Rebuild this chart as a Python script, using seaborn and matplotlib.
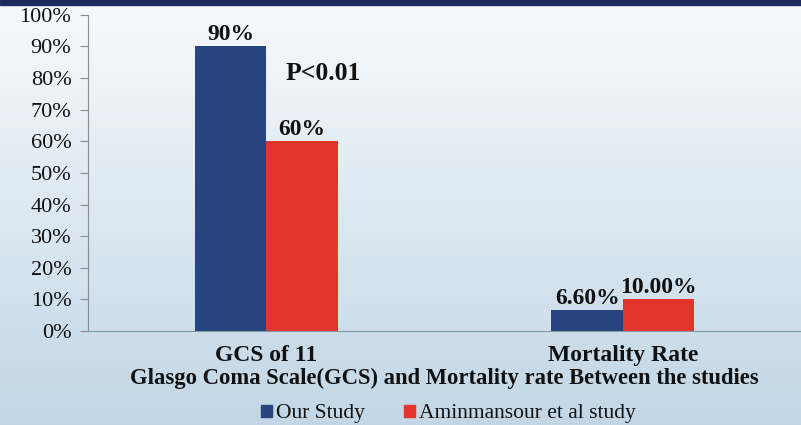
import numpy as np
import pandas as pd
import seaborn as sns
import matplotlib.pyplot as plt
from matplotlib.patches import Rectangle

# data
categories = ['GCS of 11', 'Mortality Rate']
studies = ['Our Study', 'Aminmansour et al study']
our_study = [90.0, 6.6]
aminmansour = [60.0, 10.0]
bar_labels = [['90%', '6.60%'], ['60%', '10.00%']]
yticks = [0, 10, 20, 30, 40, 50, 60, 70, 80, 90, 100]

df = pd.DataFrame({
    'category': categories * 2,
    'study': [studies[0]] * 2 + [studies[1]] * 2,
    'value': our_study + aminmansour,
})

sns.set_style('white')
plt.rcParams['font.family'] = ['Liberation Serif', 'DejaVu Serif']
plt.rcParams['text.color'] = '#111111'
plt.rcParams['xtick.color'] = '#111111'
plt.rcParams['ytick.color'] = '#111111'
plt.rcParams['axes.labelcolor'] = '#111111'

fig = plt.figure(figsize=(8.01, 4.25), dpi=100)

# background gradient
bg = fig.add_axes([0, 0, 1, 1], zorder=0)
grad = np.linspace(0, 1, 256).reshape(-1, 1)
top = np.array([0.97, 0.98, 0.99])
bot = np.array([0.76, 0.84, 0.90])
img = top + (bot - top) * grad[:, :, None]
bg.imshow(img, aspect='auto', extent=[0, 1, 0, 1])
bg.add_patch(Rectangle((0, 0.988), 1, 0.012, color='#1b2b5c', transform=bg.transAxes))
bg.set_axis_off()

ax = fig.add_axes([0.11, 0.221, 0.89, 0.744], zorder=1)
ax.patch.set_alpha(0)

sns.barplot(data=df, x='category', y='value', hue='study', ax=ax,
            palette=['#27467f', '#e2352c'], width=0.4, saturation=1,
            linewidth=0, legend=False)

for cont, labs in zip(ax.containers, bar_labels):
    ax.bar_label(cont, labels=labs, padding=1, fontsize=17, fontweight='bold')

ax.text(0.055, 81.5, 'P<0.01', fontsize=18.5, fontweight='bold', ha='left', va='center')

ax.set_ylim(0, 100)
ax.set_yticks(yticks)
ax.set_yticklabels([f'{t}%' for t in yticks], fontsize=16)
ax.set_xlim(-0.5, 1.5)
ax.tick_params(axis='x', labelsize=17, length=0, pad=10)
for lab in ax.get_xticklabels():
    lab.set_fontweight('bold')
ax.tick_params(axis='y', length=6, direction='out', color='#8c8c8c', pad=6, left=True)
ax.set_xlabel('Glasgo Coma Scale(GCS) and Mortality rate Between the studies',
              fontsize=16.3, fontweight='bold', labelpad=1)
ax.set_ylabel('')

for side in ['top', 'right']:
    ax.spines[side].set_visible(False)
ax.spines['left'].set_color('#8c8c8c')
ax.spines['bottom'].set_color('#7f9aa8')

handles = [Rectangle((0, 0), 1, 1, color='#27467f'),
           Rectangle((0, 0), 1, 1, color='#e2352c')]
fig.legend(handles, studies, loc='center', bbox_to_anchor=(0.56, 0.026), ncol=2,
           frameon=False, fontsize=15.5, handlelength=0.5, handleheight=0.5,
           handletextpad=0.2, columnspacing=1.8)

fig.savefig('out.png', dpi=100)
